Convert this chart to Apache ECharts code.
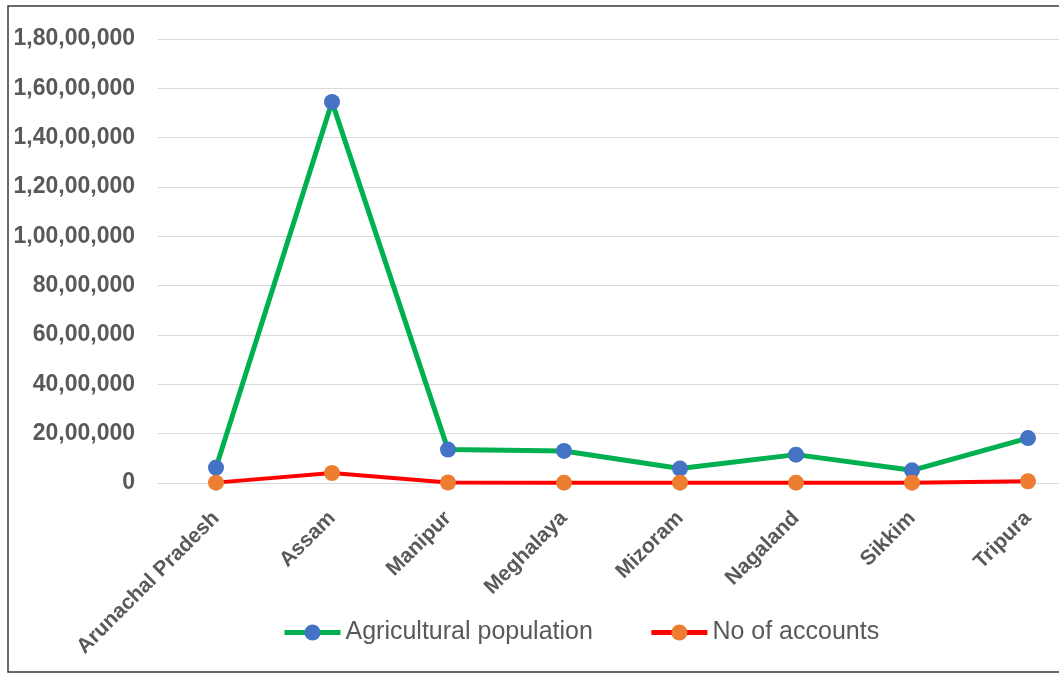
<!DOCTYPE html>
<html>
<head>
<meta charset="utf-8">
<script src="https://cdn.jsdelivr.net/npm/echarts@6/dist/echarts.min.js"></script>
<style>
  html, body { margin: 0; padding: 0; background: #fff; }
  #main { width: 1059px; height: 673px; }
</style>
</head>
<body>
<div id="main"></div>
<script>
// states on the x axis
var states = ['Arunachal Pradesh', 'Assam', 'Manipur', 'Meghalaya', 'Mizoram', 'Nagaland', 'Sikkim', 'Tripura'];
// values
var agriPopulation = [624000, 15450000, 1354000, 1300000, 584000, 1150000, 515000, 1820000];
var noOfAccounts = [15000, 405000, 20000, 15000, 15000, 15000, 15000, 70000];
// y axis: 0 .. 1,80,00,000 in steps of 20,00,000
var yMin = 0, yMax = 18000000, yStep = 2000000;

// indian digit grouping, 1,80,00,000
function indianFormat(v) {
  var s = String(Math.round(v));
  if (s.length <= 3) return s;
  var last3 = s.slice(-3);
  var rest = s.slice(0, -3);
  rest = rest.replace(/\B(?=(\d{2})+(?!\d))/g, ',');
  return rest + ',' + last3;
}

var chart = echarts.init(document.getElementById('main'));
var labelFont = 'Liberation Sans, Arial, sans-serif';

var option = {
  animation: false,
  backgroundColor: '#fff',
  graphic: [{
    type: 'rect',
    shape: { x: 8, y: 6, width: 1100, height: 666 },
    style: { fill: 'none', stroke: '#3a3a3a', lineWidth: 1.5 },
    silent: true
  }],
  // plot runs past the right edge (picture is cropped there)
  grid: { left: 158, top: 39, width: 928, height: 444, outerBoundsMode: 'none' },
  legend: {
    bottom: 23,
    left: 277,
    itemWidth: 56,
    itemHeight: 20,
    itemGap: 56,
    lineStyle: { width: 5 },
    textStyle: { fontFamily: labelFont, fontSize: 25, color: '#595959' },
    data: ['Agricultural population', 'No of accounts']
  },
  xAxis: {
    type: 'category',
    data: states,
    boundaryGap: true,
    axisLine: { lineStyle: { color: '#d9d9d9', width: 1 } },
    axisTick: { show: false },
    axisLabel: {
      rotate: 45,
      interval: 0,
      margin: 32,
      fontFamily: labelFont,
      fontSize: 21,
      fontWeight: 'bold',
      color: '#595959'
    }
  },
  yAxis: {
    type: 'value',
    min: yMin,
    max: yMax,
    interval: yStep,
    axisLine: { show: false },
    axisTick: { show: false },
    splitLine: { lineStyle: { color: '#d9d9d9', width: 1 } },
    axisLabel: {
      margin: 23,
      fontFamily: labelFont,
      fontSize: 23,
      fontWeight: 'bold',
      color: '#595959',
      formatter: indianFormat
    }
  },
  series: [{
    name: 'Agricultural population',
    type: 'line',
    data: agriPopulation,
    symbol: 'circle',
    symbolSize: 16,
    lineStyle: { color: '#00B050', width: 5 },
    itemStyle: { color: '#4472C4' },
    z: 2
  }, {
    name: 'No of accounts',
    type: 'line',
    data: noOfAccounts,
    symbol: 'circle',
    symbolSize: 16,
    lineStyle: { color: '#FF0000', width: 4 },
    itemStyle: { color: '#ED7D31' },
    z: 3
  }]
};

chart.setOption(option);
</script>
</body>
</html>
